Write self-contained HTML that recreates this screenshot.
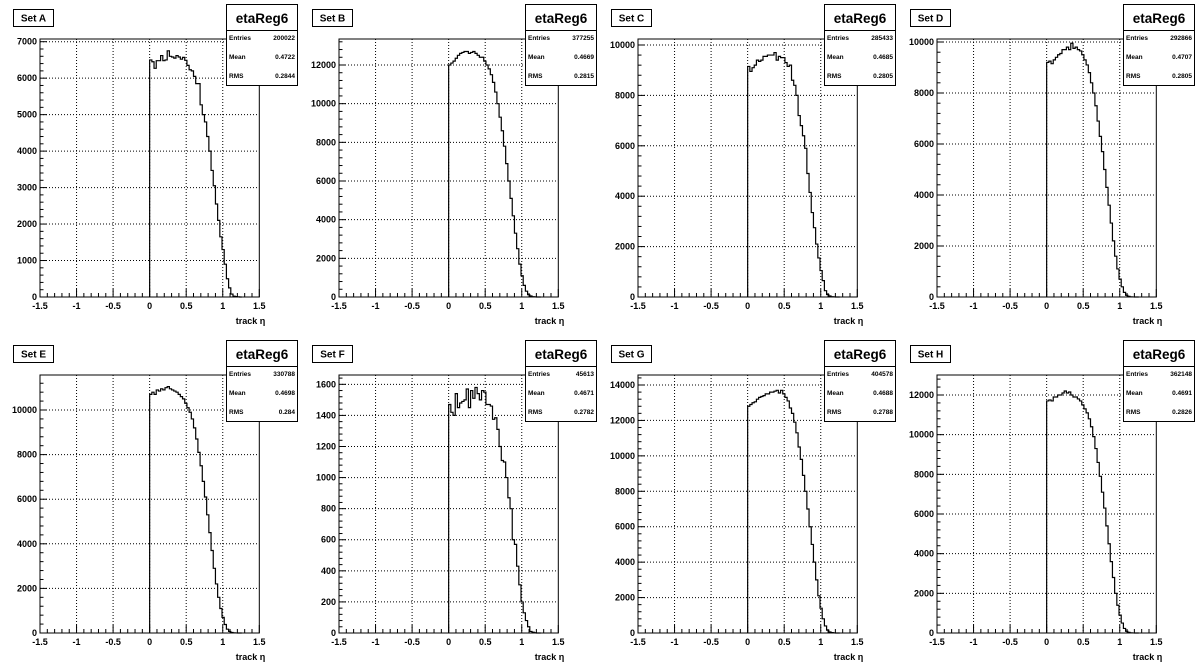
<!DOCTYPE html>
<html><head><meta charset="utf-8">
<style>
html,body{margin:0;padding:0;background:#fff;}
svg{display:block;font-family:"Liberation Sans",Arial,sans-serif;font-weight:bold;}
</style></head>
<body>
<svg id="c" width="1196" height="672" viewBox="0 0 1196 672" xmlns="http://www.w3.org/2000/svg"></svg>
<script>
const panelNames = ["Set A","Set B","Set C","Set D","Set E","Set F","Set G","Set H"];
const entries = ["200022","377255","285433","292866","330788","45613","404578","362148"];
const means = ["0.4722","0.4669","0.4685","0.4707","0.4698","0.4671","0.4688","0.4691"];
const rmss = ["0.2844","0.2815","0.2805","0.2805","0.284","0.2782","0.2788","0.2826"];
const yMaxes = [7074,13345,10238,10118,11570,1660,14565,13008];
const yStepsArr = [1000,2000,2000,2000,2000,200,2000,2000];
const xTicks = [-1.5,-1,-0.5,0,0.5,1,1.5];
const xTickLabels = ["-1.5","-1","-0.5","0","0.5","1","1.5"];
const binStart = 0, binWidth = 0.03;
const histA = [6500,6450,6270,6480,6480,6620,6480,6500,6750,6600,6580,6550,6620,6580,6520,6570,6490,6350,6230,6200,6050,5850,5850,5270,5000,4800,4400,4000,3470,3050,2550,2100,1650,1300,900,500,250,80,20,10,5,0];
const histB = [12000,12100,12200,12350,12500,12600,12650,12700,12700,12600,12650,12700,12600,12500,12400,12400,12200,12000,11800,11500,11100,10600,10000,9300,8600,7800,6900,6000,5100,4200,3300,2500,1700,1100,600,300,120,50,15,5,0,0];
const histC = [9150,8950,9100,9200,9400,9350,9400,9550,9550,9600,9600,9600,9700,9400,9550,9500,9500,9300,9150,9200,8600,8400,8000,7200,6800,6400,5900,4900,4150,3350,2750,2100,1550,1050,650,250,100,40,10,5,0,0];
const histD = [9200,9250,9150,9300,9400,9500,9550,9700,9700,9800,9700,9950,9750,9800,9700,9650,9500,9300,9100,8800,8400,8000,7500,6900,6300,5700,5000,4300,3600,2900,2200,1600,1100,700,400,180,70,25,8,3,0,0];
const histE = [10700,10800,10700,10900,10850,10950,10900,11000,11050,10950,10900,10850,10800,10700,10600,10500,10300,10100,9900,9600,9200,8700,8100,7500,6800,6100,5300,4500,3700,2900,2200,1600,1100,700,380,170,70,25,8,3,0,0];
const histF = [1470,1420,1400,1540,1450,1480,1490,1500,1570,1450,1560,1510,1580,1540,1500,1560,1550,1470,1470,1460,1375,1385,1310,1200,1110,1100,1000,870,800,600,570,430,310,200,130,80,40,10,5,2,0,0];
const histG = [12800,12900,13000,13050,13200,13300,13350,13400,13500,13500,13600,13600,13650,13700,13550,13700,13500,13300,13100,12700,12400,11900,11300,10500,9800,8900,8000,7000,6000,5000,4000,3000,2100,1400,800,400,160,60,20,5,0,0];
const histH = [11700,11750,11700,11900,11900,12000,12000,12100,12200,12100,12150,12000,11900,11900,11800,11700,11500,11300,11100,10800,10400,9900,9300,8600,7900,7100,6300,5400,4500,3600,2800,2000,1400,900,500,230,90,30,10,3,0,0];
const hists = [histA,histB,histC,histD,histE,histF,histG,histH];

const NS="http://www.w3.org/2000/svg";
const svg=document.getElementById('c');
function mk(tag,attrs,parent){const e=document.createElementNS(NS,tag);for(const k in attrs)e.setAttribute(k,attrs[k]);(parent||svg).appendChild(e);return e;}

for(let p=0;p<8;p++){
  const ox=(p%4)*299, oy=Math.floor(p/4)*336;
  const g=mk('g',{transform:`translate(${ox},${oy})`});
  
  
  const L=40,R=259.3,T=39,B=297;
  const xs=v=>L+(v+1.5)/3*(R-L);
  const ys=v=>B-v/yMaxes[p]*(B-T);
  // grid
  const grid=mk('g',{stroke:'#000','stroke-width':1,'stroke-dasharray':'1,2'},g);
  
  
  xTicks.forEach(t=>{if(t>-1.5&&t<1.5)mk('line',{x1:xs(t),x2:xs(t),y1:T,y2:B},grid);});
  const st=yStepsArr[p];
  for(let v=st;v<yMaxes[p];v+=st)mk('line',{x1:L,x2:R,y1:ys(v),y2:ys(v)},grid);
  // frame
  const fr=mk('rect',{x:L,y:T,width:R-L,height:B-T,fill:'none',stroke:'#000','stroke-width':1},g);
  
  
  // x ticks
  const tk=mk('g',{stroke:'#000','stroke-width':1},g);
  
  
  for(let i=0;i<=30;i++){const v=-1.5+i*0.1;const len=(i%5==0)?8:4;mk('line',{x1:xs(v),x2:xs(v),y1:B,y2:B-len},tk);}
  for(let i=0;;i++){const v=i*st/5;if(v>yMaxes[p])break;const len=(i%5==0)?7:3.5;mk('line',{x1:L,x2:L+len,y1:ys(v),y2:ys(v)},tk);}
  // x labels
  xTicks.forEach((t,i)=>{const tx=mk('text',{x:xs(t),y:B+12,'font-size':9,'text-anchor':'middle'},g);tx.textContent=xTickLabels[i];
    });
  for(let v=0;v<yMaxes[p];v+=st){const tx=mk('text',{x:L-3,y:ys(v)+3,'font-size':9,'text-anchor':'end'},g);tx.textContent=String(v);
    }
  const xt=mk('text',{x:R+6,y:B+27,'font-size':9,'text-anchor':'end'},g);xt.textContent='track η';
  
  // histogram
  const h=hists[p];let d=`M${xs(binStart)},${ys(0)}`;
  h.forEach((v,i)=>{const x0=xs(binStart+i*binWidth),x1=xs(binStart+(i+1)*binWidth);d+=`L${x0},${ys(v)}L${x1},${ys(v)}`;});
  d+=`L${xs(binStart+h.length*binWidth)},${ys(0)}`;
  const hp=mk('path',{d:d,fill:'none',stroke:'#000','stroke-width':1.2},g);
  
  
  // set label
  const sb=mk('g',{},g);
  
  
  mk('rect',{x:13.5,y:9.5,width:40,height:17,fill:'#fff',stroke:'#000'},sb);
  const stx=mk('text',{x:33.5,y:21.5,'font-size':10,'text-anchor':'middle'},sb);stx.textContent=panelNames[p];
  // stats box
  const sx=mk('g',{},g);
  
  
  mk('rect',{x:226.5,y:4.5,width:71,height:81,fill:'#fff',stroke:'#000'},sx);
  mk('line',{x1:226.5,x2:297.5,y1:30.5,y2:30.5,stroke:'#000'},sx);
  const tt=mk('text',{x:262,y:23,'font-size':13.5,'text-anchor':'middle'},sx);tt.textContent='etaReg6';
  const rows=[['Entries',entries[p]],['Mean',means[p]],['RMS',rmss[p]]];
  rows.forEach((r,i)=>{const y=40+i*19;
    const a=mk('text',{x:229,y:y,'font-size':6.5},sx);a.textContent=r[0];
    const b=mk('text',{x:295,y:y,'font-size':6.5,'text-anchor':'end'},sx);b.textContent=r[1];});
}
</script>
</body></html>
